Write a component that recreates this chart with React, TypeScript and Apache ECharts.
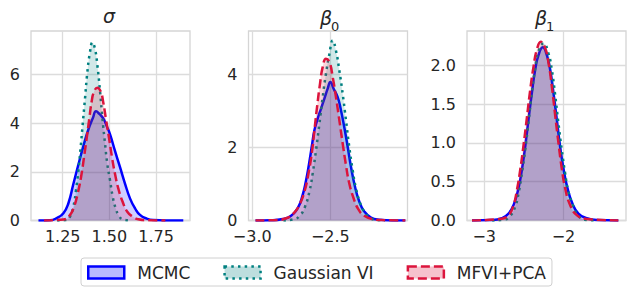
import React, { useEffect, useRef } from "react";
import * as echarts from "echarts";

// ---- Panel σ ----
const sigmaMcmcX = [1.12, 1.182, 1.218, 1.2536, 1.28, 1.307, 1.334, 1.361, 1.3875, 1.411, 1.4286, 1.4464, 1.468, 1.4857, 1.5036, 1.53, 1.557, 1.584, 1.611, 1.6375, 1.664, 1.7, 1.7357, 1.8, 1.896];
const sigmaMcmcY = [0, 0.01, 0.1, 0.3, 0.7, 1.5, 2.3, 3.07, 3.74, 4.2, 4.49, 4.38, 4.19, 3.88, 3.54, 2.86, 2.19, 1.51, 0.9, 0.5, 0.23, 0.08, 0.02, 0, 0];
const sigmaGvX = [1.22, 1.2714, 1.289, 1.307, 1.321, 1.334, 1.346, 1.357, 1.3696, 1.382, 1.396, 1.409, 1.423, 1.4357, 1.45, 1.4625, 1.477, 1.489, 1.5036, 1.518, 1.534, 1.552, 1.575, 1.62];
const sigmaGvY = [0, 0.02, 0.16, 0.57, 1.24, 2.05, 3.0, 3.95, 5.03, 6.1, 6.92, 7.32, 7.05, 6.38, 5.3, 4.22, 3.14, 2.32, 1.65, 0.97, 0.5, 0.19, 0.03, 0];
const sigmaMfX = [1.15, 1.2536, 1.2857, 1.3107, 1.33, 1.348, 1.364, 1.3786, 1.393, 1.405, 1.418, 1.4357, 1.4536, 1.468, 1.482, 1.498, 1.514, 1.53, 1.548, 1.571, 1.596, 1.625, 1.655, 1.7, 1.8];
const sigmaMfY = [0, 0.04, 0.19, 0.57, 1.1, 1.78, 2.6, 3.4, 4.22, 4.89, 5.3, 5.46, 5.3, 4.82, 4.15, 3.4, 2.6, 1.92, 1.31, 0.77, 0.36, 0.16, 0.05, 0.01, 0];

// ---- Panel β0 ----
const b0McmcX = [-2.979, -2.879, -2.804, -2.751, -2.7085, -2.677, -2.655, -2.636, -2.619, -2.602, -2.581, -2.56, -2.538, -2.517, -2.5, -2.479, -2.453, -2.432, -2.411, -2.389, -2.368, -2.3425, -2.315, -2.283, -2.24, -2.187, -2.1, -2.02];
const b0McmcY = [0, 0.005, 0.04, 0.13, 0.34, 0.7, 1.11, 1.56, 2.02, 2.47, 2.79, 3.06, 3.34, 3.61, 3.79, 3.61, 3.38, 3.02, 2.56, 2.02, 1.47, 0.93, 0.52, 0.25, 0.08, 0.02, 0, 0];
const b0GvX = [-2.8, -2.73, -2.6915, -2.662, -2.634, -2.613, -2.5915, -2.57, -2.549, -2.528, -2.506, -2.485, -2.464, -2.4425, -2.421, -2.4, -2.379, -2.357, -2.336, -2.3085, -2.279, -2.24, -2.198, -2.15];
const b0GvY = [0, 0.04, 0.15, 0.38, 0.79, 1.29, 1.93, 2.65, 3.38, 4.02, 4.56, 4.93, 4.65, 4.11, 3.47, 2.75, 2.02, 1.38, 0.88, 0.47, 0.22, 0.06, 0.01, 0];
const b0MfX = [-2.979, -2.8575, -2.783, -2.734, -2.698, -2.666, -2.64, -2.619, -2.602, -2.585, -2.566, -2.549, -2.528, -2.506, -2.485, -2.464, -2.4425, -2.421, -2.4, -2.379, -2.351, -2.321, -2.283, -2.23, -2.155, -2.02];
const b0MfY = [0, 0.01, 0.06, 0.2, 0.43, 0.79, 1.29, 1.84, 2.47, 3.11, 3.75, 4.2, 4.43, 4.34, 3.93, 3.38, 2.75, 2.11, 1.52, 1.02, 0.61, 0.31, 0.13, 0.04, 0.01, 0];

// ---- Panel β1 ----
const b1McmcX = [-3.155, -2.9, -2.777, -2.693, -2.622, -2.567, -2.525, -2.483, -2.441, -2.399, -2.357, -2.315, -2.2605, -2.21, -2.168, -2.126, -2.084, -2.042, -2.0, -1.95, -1.887, -1.811, -1.706, -1.58, -1.307];
const b1McmcY = [0, 0.005, 0.03, 0.09, 0.22, 0.42, 0.65, 0.95, 1.3, 1.64, 1.94, 2.13, 2.23, 2.13, 1.94, 1.64, 1.3, 0.95, 0.67, 0.42, 0.22, 0.09, 0.03, 0.005, 0];
const b1GvX = [-2.9, -2.756, -2.672, -2.609, -2.567, -2.525, -2.483, -2.441, -2.399, -2.357, -2.315, -2.252, -2.189, -2.147, -2.105, -2.063, -2.021, -1.979, -1.937, -1.874, -1.811, -1.727, -1.6];
const b1GvY = [0, 0.01, 0.06, 0.18, 0.35, 0.61, 0.91, 1.27, 1.64, 1.96, 2.18, 2.28, 2.15, 1.94, 1.62, 1.25, 0.91, 0.61, 0.37, 0.18, 0.06, 0.01, 0];
const b1MfX = [-3.155, -2.798, -2.693, -2.63, -2.588, -2.546, -2.504, -2.462, -2.42, -2.378, -2.336, -2.286, -2.231, -2.189, -2.147, -2.105, -2.063, -2.021, -1.979, -1.916, -1.832, -1.706, -1.307];
const b1MfY = [0, 0.02, 0.07, 0.2, 0.39, 0.65, 0.97, 1.32, 1.68, 1.98, 2.2, 2.3, 2.22, 2.03, 1.73, 1.36, 1.0, 0.67, 0.42, 0.2, 0.07, 0.02, 0];

// ---- Axes ----
const xRanges = [[1.08, 1.932], [-3.024, -2.006], [-3.218, -1.21]];
const yMaxes = [7.79, 5.19, 2.44];
const xTicks = [[1.25, 1.5, 1.75], [-3.0, -2.5], [-3, -2]];
const xDecimals = [2, 1, 0];
const yTicks = [[0, 2, 4, 6], [0, 2, 4], [0, 0.5, 1.0, 1.5, 2.0]];
const yDecimals = [0, 0, 1];
const seriesNames = ["MCMC", "Gaussian VI", "MFVI+PCA"];

const FONT = "DejaVu Sans";
const lineColors = ["#0000ff", "#008080", "#dc143c"];
const fillColors = ["rgba(0,0,255,0.27)", "rgba(0,128,128,0.26)", "rgba(220,20,60,0.26)"];
const dashTypes: any[] = ["solid", [2.5, 4.2], [9, 4]];

const fmt = (v: number, d: number) => {
  const s = Math.abs(v).toFixed(d);
  return v < 0 ? "\u2212" + s : s;
};

const zip = (xs: number[], ys: number[]) => xs.map((x, i) => [x, ys[i]]);

const panels = [
  [zip(sigmaMcmcX, sigmaMcmcY), zip(sigmaGvX, sigmaGvY), zip(sigmaMfX, sigmaMfY)],
  [zip(b0McmcX, b0McmcY), zip(b0GvX, b0GvY), zip(b0MfX, b0MfY)],
  [zip(b1McmcX, b1McmcY), zip(b1GvX, b1GvY), zip(b1MfX, b1MfY)],
];

const gridLefts = [31, 248.5, 467];
const gridWidth = 159;

export default function App() {
  const ref = useRef<HTMLDivElement>(null);
  useEffect(() => {
    const chart = echarts.init(ref.current!, null, { renderer: "svg" });
    const grids = gridLefts.map((l) => ({
      left: l,
      top: 31,
      width: gridWidth,
      height: 189.5,
      show: true,
      borderColor: "#d5d5d5",
      borderWidth: 1.3,
      backgroundColor: "#ffffff",
    }));
    const xAxes = xRanges.map((r, i) => ({
      type: "value",
      gridIndex: i,
      min: r[0],
      max: r[1],
      axisLine: { show: false },
      axisTick: { show: false, customValues: xTicks[i] },
      axisLabel: {
        customValues: xTicks[i],
        formatter: (v: number) => fmt(v, xDecimals[i]),
        color: "#262626",
        fontSize: 16,
        fontFamily: FONT,
        margin: 8,
      },
      splitLine: { show: true, lineStyle: { color: "#dcdcdc", width: 1.3 } },
    }));
    const yAxes = yMaxes.map((m, i) => ({
      type: "value",
      gridIndex: i,
      min: 0,
      max: m,
      axisLine: { show: false },
      axisTick: { show: false, customValues: yTicks[i] },
      axisLabel: {
        customValues: yTicks[i],
        formatter: (v: number) => fmt(v, yDecimals[i]),
        color: "#262626",
        fontSize: 16,
        fontFamily: FONT,
        margin: 11,
      },
      splitLine: { show: true, lineStyle: { color: "#dcdcdc", width: 1.3 } },
    }));
    const series: any[] = [];
    panels.forEach((p, pi) => {
      p.forEach((data, si) => {
        series.push({
          type: "line",
          name: seriesNames[si],
          xAxisIndex: pi,
          yAxisIndex: pi,
          data,
          smooth: 0.5,
          showSymbol: false,
          symbol: "none",
          z: 2 + si,
          lineStyle: { color: lineColors[si], width: 2.5, type: dashTypes[si], cap: "butt", join: "round" },
          itemStyle: { color: fillColors[si], borderColor: lineColors[si] },
          areaStyle: { color: fillColors[si], origin: "start" },
        });
      });
    });
    const titleStyle = { fontFamily: FONT, fontSize: 19, fontStyle: "italic", fill: "#262626" };
    const subStyle = { fontFamily: FONT, fontSize: 13, fill: "#262626" };
    chart.setOption({
      animation: false,
      backgroundColor: "#ffffff",
      grid: grids,
      xAxis: xAxes,
      yAxis: yAxes,
      series,
      legend: {
        left: 81,
        top: 258,
        padding: [6, 6, 5, 6],
        itemGap: 33,
        itemWidth: 36,
        itemHeight: 12,
        icon: "rect",
        borderColor: "#d0d0d0",
        borderWidth: 1,
        borderRadius: 3,
        textStyle: { fontFamily: FONT, fontSize: 17, color: "#262626", padding: [0, 0, 0, 8] },
        data: seriesNames.map((n, i) => ({
          name: n,
          itemStyle: {
            color: fillColors[i],
            borderColor: lineColors[i],
            borderWidth: 2.5,
            borderType: dashTypes[i],
          },
        })),
      },
      graphic: [
        { type: "text", x: 103, y: 6, style: { ...titleStyle, text: "\u03c3" } },
        { type: "text", x: 320, y: 8, style: { ...titleStyle, text: "\u03b2" } },
        { type: "text", x: 331, y: 20, style: { ...subStyle, text: "0" } },
        { type: "text", x: 535, y: 8, style: { ...titleStyle, text: "\u03b2" } },
        { type: "text", x: 546, y: 20, style: { ...subStyle, text: "1" } },
      ],
    });
    return () => chart.dispose();
  }, []);
  return (
    <div
      ref={ref}
      style={{ position: "absolute", left: 0, top: 0, width: 635, height: 298, background: "#fff" }}
    />
  );
}
